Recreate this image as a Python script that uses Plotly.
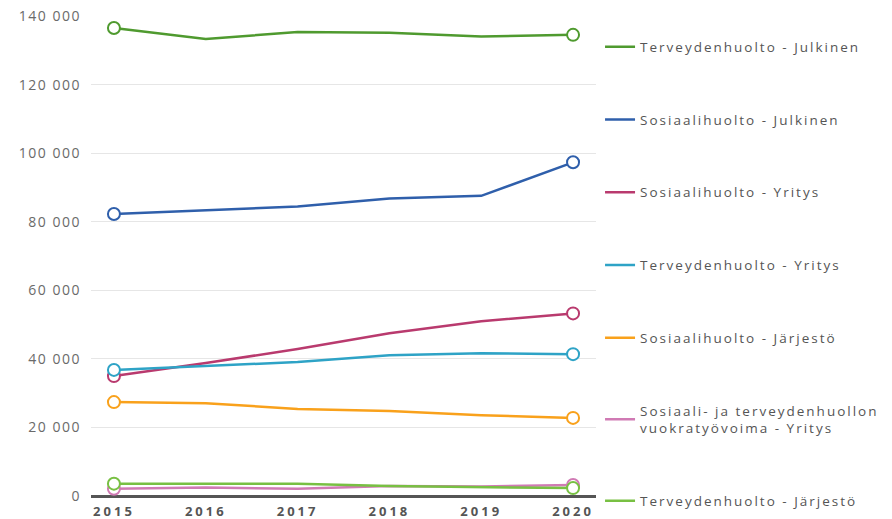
import plotly.graph_objects as go

years = [2015, 2016, 2017, 2018, 2019, 2020]

series_names = [
    "Terveydenhuolto - Julkinen",
    "Sosiaalihuolto - Julkinen",
    "Sosiaalihuolto - Yritys",
    "Terveydenhuolto - Yritys",
    "Sosiaalihuolto - Järjestö",
    "Sosiaali- ja terveydenhuollon<br>vuokratyövoima - Yritys",
    "Terveydenhuolto - Järjestö",
]

terv_julkinen = [136600, 133400, 135400, 135200, 134100, 134600]
sos_julkinen = [82300, 83300, 84500, 86800, 87600, 97400]
sos_yritys = [35000, 38800, 42900, 47500, 51000, 53300]
terv_yritys = [36800, 37900, 39100, 41100, 41700, 41400]
sos_jarjesto = [27400, 27100, 25400, 24800, 23600, 22800]
vuokra_yritys = [2100, 2500, 2100, 2900, 2800, 3200]
terv_jarjesto = [3600, 3500, 3600, 2900, 2600, 2300]

series_values = [terv_julkinen, sos_julkinen, sos_yritys, terv_yritys,
                 sos_jarjesto, vuokra_yritys, terv_jarjesto]
colors = ["#4f9a2f", "#2f5fab", "#b93a6e", "#2ea3c6", "#f9a11b", "#d07ab4", "#78c043"]

y_tickvals = [0, 20000, 40000, 60000, 80000, 100000, 120000, 140000]
y_ticktext = ["0", "20 000", "40 000", "60 000", "80 000", "100 000", "120 000", "140 000"]
x_ticktext = ["2015", "2016", "2017", "2018", "2019", "2020"]


def spaced(t, px):
    return '<span style="letter-spacing:%spx">%s</span>' % (px, t)


fig = go.Figure()
for i, (name, vals, col) in enumerate(zip(series_names, series_values, colors)):
    label = "<br>".join(spaced(part, 2) for part in name.split("<br>"))
    fig.add_trace(go.Scatter(
        x=years, y=vals, name=label, mode="lines",
        line=dict(color=col, width=2.5),
        legendgroup="g%d" % i,
    ))
    fig.add_trace(go.Scatter(
        x=[years[0], years[-1]], y=[vals[0], vals[-1]], mode="markers",
        marker=dict(size=12, color="white", line=dict(color=col, width=2)),
        legendgroup="g%d" % i, showlegend=False, hoverinfo="skip",
    ))

fig.update_layout(
    width=892, height=519,
    margin=dict(l=91, r=296, t=16, b=23, autoexpand=False),
    paper_bgcolor="white", plot_bgcolor="white",
    font=dict(family="Open Sans", color="#666666", size=13),
    showlegend=True,
    legend=dict(x=1.008, xanchor="left", y=0.968, yanchor="top",
                traceorder="grouped", tracegroupgap=52.2, maxheight=1000,
                font=dict(size=13.5, color="#555555"),
                bgcolor="rgba(0,0,0,0)"),
    xaxis=dict(range=[2014.75, 2020.25], tickvals=years,
               ticktext=[spaced(t, 3) for t in x_ticktext],
               showgrid=False, zeroline=False, showline=False, automargin=False,
               tickfont=dict(size=13, color="#555555", weight=700),
               ticks="", ticklabelstandoff=6, ticklabeloverflow="allow"),
    yaxis=dict(range=[0, 140100], tickvals=y_tickvals,
               ticktext=[spaced(t, 1.5) for t in y_ticktext],
               showgrid=True, gridcolor="#e6e6e6", gridwidth=1,
               zeroline=True, zerolinecolor="#555555", zerolinewidth=2.5,
               showline=False, automargin=False, ticks="", ticklabelstandoff=9,
               ticklabeloverflow="allow",
               tickfont=dict(size=14, color="#6a6a6a")),
)

fig.write_html("out.html", config={"displayModeBar": False},
               post_script="document.body.style.margin='0px';")
